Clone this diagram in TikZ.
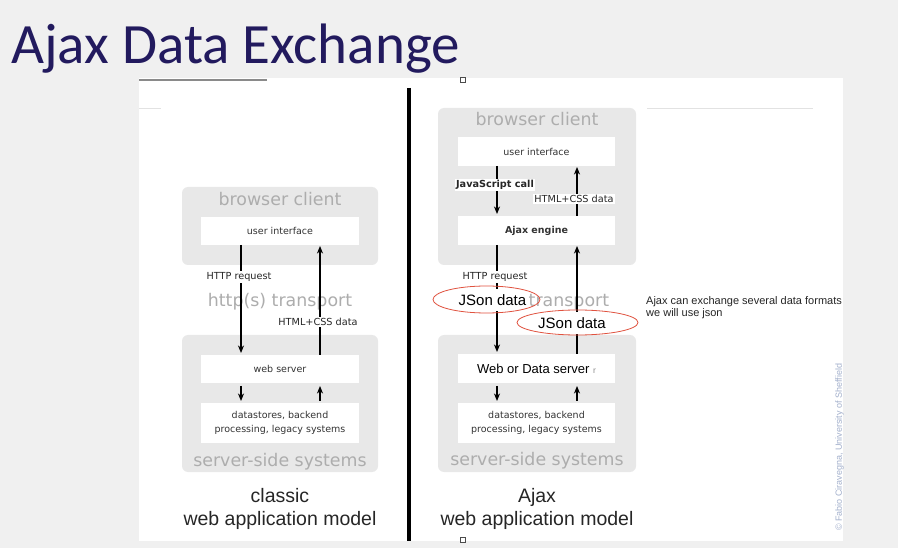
\documentclass[tikz,border=0pt]{standalone}
\usepackage{fontspec}
\setmainfont{DejaVu Sans}
\newfontfamily\titlefont{Carlito}
\newfontfamily\arialfont{Liberation Sans}
\usetikzlibrary{arrows.meta,shapes.geometric}
\definecolor{bgc}{HTML}{F0F0F0}
\definecolor{titlec}{HTML}{221A5E}
\definecolor{boxg}{HTML}{E8E8E8}
\definecolor{lblg}{HTML}{ADADAD}
\definecolor{txtc}{HTML}{333333}
\definecolor{ellc}{HTML}{E0523F}
\definecolor{copyc}{HTML}{A3B0CC}
\definecolor{rulec}{HTML}{8A8A8A}
\definecolor{faintc}{HTML}{E2E2E2}
\tikzset{
  tier/.style={fill=boxg, rounded corners=6pt, inner sep=0pt, outer sep=0pt, minimum width=196pt},
  whitebox/.style={fill=white, inner sep=0pt, outer sep=0pt, minimum width=158pt, minimum height=28pt, text=txtc, align=center, font=\fontsize{9.5}{13.5}\selectfont},
  tiername/.style={text=lblg, inner sep=0pt, anchor=base, font=\fontsize{17.4}{20}\selectfont},
  caption/.style={text=black!85, inner sep=0pt, anchor=base, font=\arialfont\fontsize{19.5}{22}\selectfont},
  flow/.style={line width=1.1pt, -{Stealth[length=7.5pt,width=6pt,inset=2.2pt]}},
  flowlbl/.style={fill=white, inner sep=1.5pt, text=black!85, font=\fontsize{9.7}{11}\selectfont},
  jsontext/.style={fill=white, inner xsep=2pt, inner ysep=0pt, minimum height=22pt, text=black, font=\arialfont\fontsize{15}{17}\selectfont},
  jsonring/.style={ellipse, draw=ellc, line width=0.8pt, inner sep=0pt},
}
\begin{document}
\begin{tikzpicture}[x=1pt,y=-1pt]
\useasboundingbox (0,0) rectangle (898,548);
\fill[bgc] (0,0) rectangle (898,548);
% slide panel
\fill[white] (139,78) rectangle (843,541);
\draw[rulec, line width=1.5pt] (139,80) -- (267,80);
\draw[faintc, line width=1pt] (139,109) -- (161,109);
\draw[faintc, line width=1pt] (647,109) -- (813,109);
\draw[black, line width=3.5pt] (409,88) -- (409,541);
\node[draw=black!70, fill=white, line width=0.6pt, minimum size=5pt, inner sep=0pt] (mk1) at (463,79.5) {};
\node[draw=black!70, fill=white, line width=0.6pt, minimum size=5pt, inner sep=0pt] (mk2) at (463,539.5) {};
% title
\node[font=\titlefont\fontsize{57}{60}\selectfont, text=titlec, anchor=base west, inner sep=0pt] (title) at (11,63.5) {Ajax Data Exchange};

% ---------- classic model ----------
\node[tier, minimum height=78pt] (bc1) at (280,226) {};
\node[tier, minimum height=137pt] (ss1) at (280,403.5) {};
\node[whitebox] (ui1) at (280,231) {user interface};
\node[whitebox] (ws1) at (280,369) {web server};
\node[whitebox, minimum height=40pt] (ds1) at (280,423) {datastores, backend\\processing, legacy systems};
\node[tiername] (bcn1) at (280,206) {browser client};
\node[tiername] (tr1) at (280,307) {http(s) transport};
\node[tiername] (ssn1) at (280,466) {server-side systems};
\node[caption] (cap1a) at (280,502) {classic};
\node[caption] (cap1b) at (280,525) {web application model};

\draw[flow, shorten >=2pt] ([xshift=-39pt]ui1.south) -- ([xshift=-39pt]ws1.north);
\draw[flow, shorten >=1pt] ([xshift=40pt]ws1.north) -- ([xshift=40pt]ui1.south);
\draw[flow, shorten <=3pt, shorten >=2pt] ([xshift=-39pt]ws1.south) -- ([xshift=-39pt]ds1.north);
\draw[flow, shorten <=2pt, shorten >=3pt] ([xshift=40pt]ds1.north) -- ([xshift=40pt]ws1.south);
\node[flowlbl] (req1) at (239,277) {HTTP request};
\node[flowlbl] (html1) at (318,322) {HTML+CSS data};

% ---------- Ajax model ----------
\node[tier, minimum width=198pt, minimum height=157pt] (bc2) at (537,186.5) {};
\node[tier, minimum width=198pt, minimum height=137pt] (ss2) at (537,403.5) {};
\node[whitebox, minimum width=157pt, minimum height=29pt] (ui2) at (536.5,151.5) {user interface};
\node[whitebox, minimum width=157pt, minimum height=29pt] (ae2) at (536.5,230.5) {\bfseries Ajax engine};
\node[whitebox, minimum width=157pt, minimum height=29pt, font=\arialfont\fontsize{13}{15}\selectfont, text=black] (ws2) at (536.5,368.5) {Web or Data server {\color{black!45}\fontsize{8.5}{10}\selectfont r}};
\node[whitebox, minimum width=157pt, minimum height=40pt] (ds2) at (536.5,423) {datastores, backend\\processing, legacy systems};
\node[tiername] (bcn2) at (537,126) {browser client};
\node[tiername] (tr2) at (537,307) {http(s) transport};
\node[tiername] (ssn2) at (537,465) {server-side systems};
\node[caption] (cap2a) at (537,502) {Ajax};
\node[caption] (cap2b) at (537,525) {web application model};

\draw[flow, shorten >=2pt] ([xshift=-39.5pt]ui2.south) -- ([xshift=-39.5pt]ae2.north);
\draw[flow, shorten >=1pt] ([xshift=40.5pt]ae2.north) -- ([xshift=40.5pt]ui2.south);
\draw[flow, shorten >=2pt] ([xshift=-39.5pt]ae2.south) -- ([xshift=-39.5pt]ws2.north);
\draw[flow, shorten >=1pt] ([xshift=40.5pt]ws2.north) -- ([xshift=40.5pt]ae2.south);
\draw[flow, shorten <=3pt, shorten >=2pt] ([xshift=-39.5pt]ws2.south) -- ([xshift=-39.5pt]ds2.north);
\draw[flow, shorten <=2pt, shorten >=3pt] ([xshift=40.5pt]ds2.north) -- ([xshift=40.5pt]ws2.south);
\node[flowlbl, font=\bfseries\fontsize{9.7}{11}\selectfont] (js2) at (495,185) {JavaScript call};
\node[flowlbl] (html2) at (574,199) {HTML+CSS data};
\node[flowlbl] (req2) at (495,277) {HTTP request};
% JSon annotations: white text boxes ringed by red ellipses
\node[jsontext] (json1) at (492.5,300.5) {JSon data};
\node[jsonring, minimum width=107pt, minimum height=27pt] (ring1) at (486.5,299.5) {};
\node[jsontext] (json2) at (572,323) {JSon data};
\node[jsonring, minimum width=121pt, minimum height=25pt] (ring2) at (577.5,322.5) {};

% ---------- note and credit ----------
\node[anchor=north west, inner sep=0pt, align=left, text=black!85, font=\arialfont\fontsize{11}{12.5}\selectfont] (note) at (646,296) {Ajax can exchange several data formats\\we will use json};
\begin{scope}
\clip (139,78) rectangle (843,541);
\node[rotate=90, anchor=west, inner sep=0pt, text=copyc, font=\arialfont\fontsize{9}{10}\selectfont] (credit) at (839.5,531) {© Fabio Ciravegna, University of Sheffield};
\end{scope}
\end{tikzpicture}
\end{document}
